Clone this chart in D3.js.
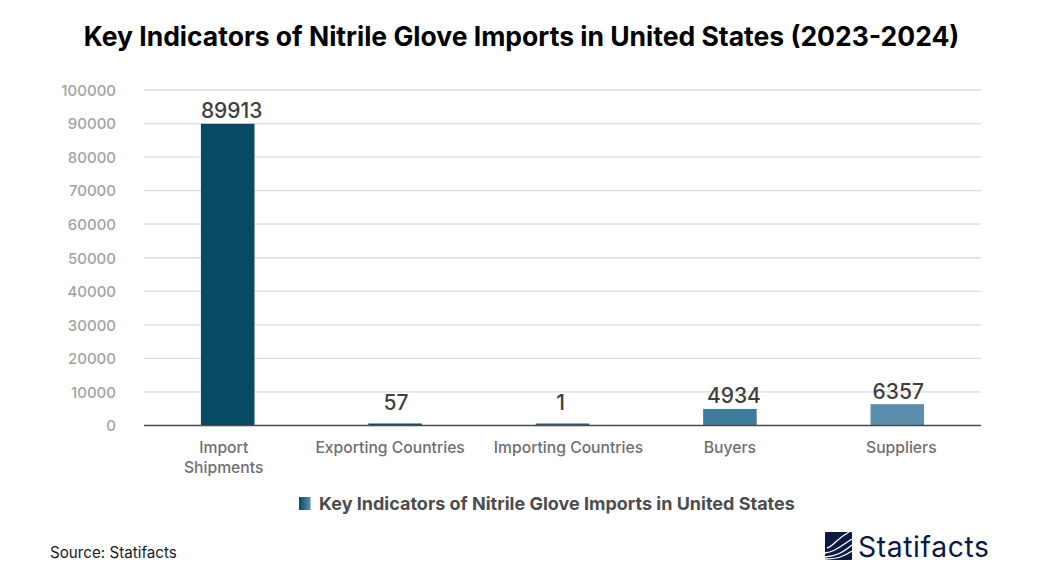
<!DOCTYPE html>
<html>
<head>
<meta charset="utf-8">
<script src="https://cdn.jsdelivr.net/npm/d3@7"></script>
<style>
  html, body { margin: 0; padding: 0; background: #fff; }
  svg { display: block; font-family: Inter, "Liberation Sans", sans-serif; }
</style>
</head>
<body>
<svg id="chart" width="1043" height="588"></svg>
<script>
const categories = ["Import Shipments", "Exporting Countries", "Importing Countries", "Buyers", "Suppliers"];
const values = [89913, 57, 1, 4934, 6357];
const barColors = ["#064a64", "#0f5068", "#2f5f70", "#3f7b9b", "#5a90ad"];
const yTicks = [0, 10000, 20000, 30000, 40000, 50000, 60000, 70000, 80000, 90000, 100000];
const titleText = "Key Indicators of Nitrile Glove Imports in United States (2023-2024)";
const legendText = "Key Indicators of Nitrile Glove Imports in United States";
const sourceText = "Source: Statifacts";
const logoText = "Statifacts";

const svg = d3.select("#chart");

const x = d3.scaleBand().domain(categories).range([144, 981]).paddingInner(0.68).paddingOuter(0.34);
const y = d3.scaleLinear().domain([0, 100000]).range([425.5, 90]);

svg.append("text")
  .attr("x", 521.5).attr("y", 46)
  .attr("text-anchor", "middle")
  .attr("font-size", 26.5).attr("font-weight", 700).attr("fill", "#000")
  .text(titleText);

// y axis
const yAxis = svg.append("g")
  .attr("transform", "translate(144,0.5)")
  .call(d3.axisLeft(y).tickValues(yTicks).tickFormat(d3.format("d")).tickSize(0).tickPadding(28));
yAxis.select(".domain").remove();
yAxis.selectAll("text")
  .attr("font-family", "Inter, sans-serif")
  .attr("font-size", 15).attr("font-weight", 500).attr("fill", "#a3a3a3");

svg.append("g")
  .selectAll("line")
  .data(yTicks.filter(d => d > 0))
  .join("line")
  .attr("x1", 144).attr("x2", 981)
  .attr("y1", d => y(d)).attr("y2", d => y(d))
  .attr("stroke", "#dcdcdc").attr("stroke-width", 1.3);

// bars, tiny values still get a sliver
svg.append("g")
  .selectAll("rect")
  .data(values)
  .join("rect")
  .attr("x", (d, i) => x(categories[i]))
  .attr("width", x.bandwidth())
  .attr("y", d => Math.min(y(d), 423.5))
  .attr("height", d => Math.max(y(0) - y(d), 2))
  .attr("fill", (d, i) => barColors[i]);

// baseline
svg.append("line")
  .attr("x1", 144).attr("x2", 981)
  .attr("y1", y(0)).attr("y2", y(0))
  .attr("stroke", "#4a4a4a").attr("stroke-width", 1.3);

// value labels
const labelShift = [4, 1, -2, 4, 1];
svg.append("g")
  .selectAll("text")
  .data(values)
  .join("text")
  .attr("x", (d, i) => x(categories[i]) + x.bandwidth() / 2 + labelShift[i])
  .attr("y", d => Math.min(y(d) - 5.5, 410))
  .attr("text-anchor", "middle")
  .attr("font-size", 21).attr("font-weight", 500).attr("fill", "#404040")
  .text(d => d);

// category labels, first one wraps
const catShift = [-4, -5, 6, 0, 4];
svg.append("g")
  .selectAll("text")
  .data(categories)
  .join("text")
  .attr("text-anchor", "middle")
  .attr("font-size", 15.7).attr("font-weight", 500).attr("fill", "#6f6f6f")
  .attr("transform", (d, i) => `translate(${x(d) + x.bandwidth() / 2 + catShift[i]},453)`)
  .each(function(d, i) {
    const lines = i === 0 ? d.split(" ") : [d];
    d3.select(this).selectAll("tspan").data(lines).join("tspan")
      .attr("x", 0).attr("dy", (l, j) => j ? 20 : 0).text(l => l);
  });

// legend
const defs = svg.append("defs");
const grad = defs.append("linearGradient").attr("id", "legendFill");
grad.append("stop").attr("offset", "0%").attr("stop-color", "#064a64");
grad.append("stop").attr("offset", "100%").attr("stop-color", "#5a90ad");
svg.append("rect")
  .attr("x", 299).attr("y", 497).attr("width", 11.5).attr("height", 13)
  .attr("fill", "url(#legendFill)");
svg.append("text")
  .attr("x", 319).attr("y", 510)
  .attr("font-size", 18).attr("font-weight", 700).attr("fill", "#4d4d4d")
  .text(legendText);

svg.append("text")
  .attr("x", 50).attr("y", 558)
  .attr("font-size", 15.2).attr("fill", "#1a1a1a")
  .text(sourceText);

// logo
const logo = svg.append("g").attr("transform", "translate(825,532)");
logo.append("rect").attr("width", 27).attr("height", 28).attr("rx", 1).attr("fill", "#0b1a45");
const wave = ["M0,25 C10,24 16,22 27,13", "M0,21 C9,20 13,16 27,7", "M2,16 C8,15 11,7 24,0", "M0,27 C12,27 18,25 27,19"];
logo.selectAll("path").data(wave).join("path")
  .attr("d", d => d).attr("fill", "none").attr("stroke", "#fff").attr("stroke-width", 1.3);
svg.append("text")
  .attr("x", 858).attr("y", 557)
  .attr("font-size", 28.3).attr("font-weight", 400).attr("letter-spacing", 0.6).attr("fill", "#0b1a45")
  .text(logoText);
</script>
</body>
</html>
